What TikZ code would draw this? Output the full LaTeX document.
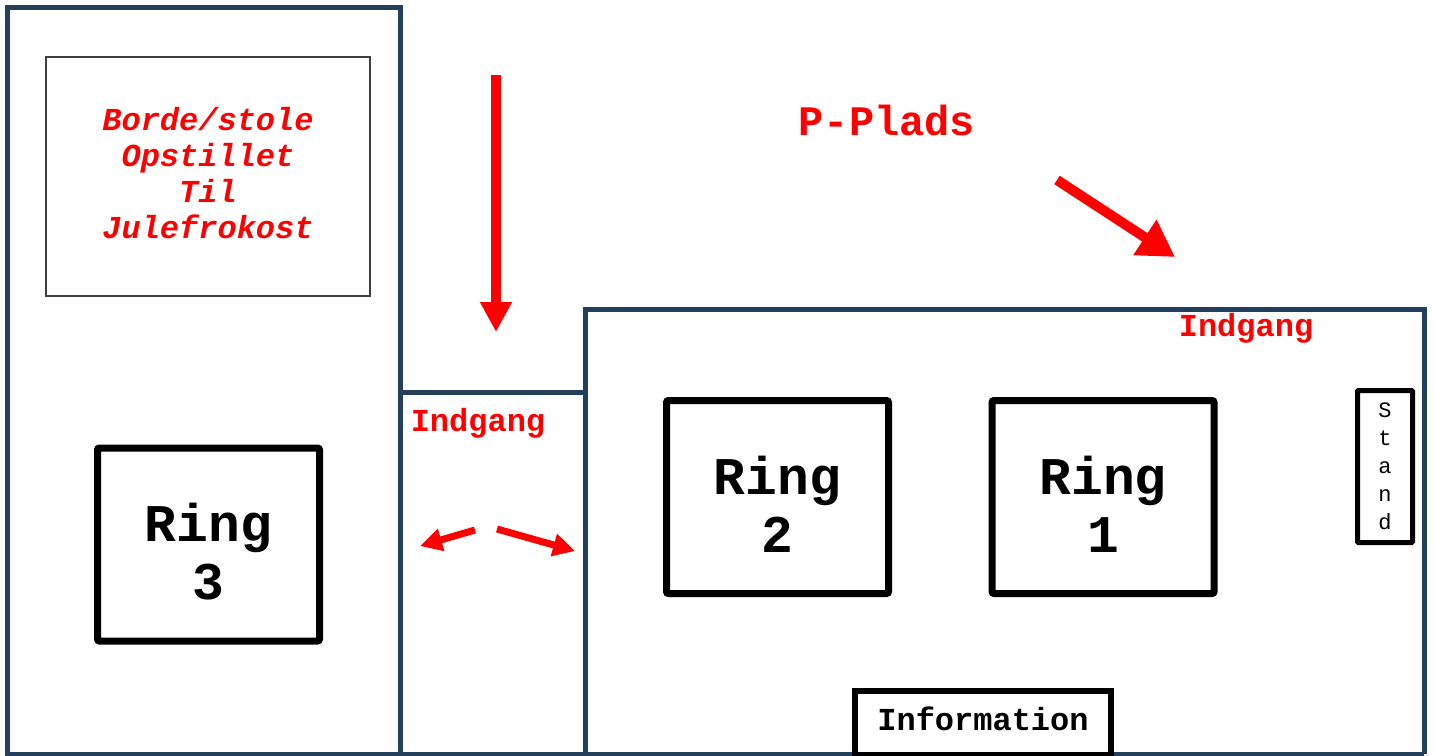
\documentclass[tikz,border=0pt]{standalone}
\usepackage{fontspec}
\setmonofont{Liberation Mono}
\usetikzlibrary{arrows.meta, positioning}

\definecolor{wallblue}{RGB}{36,63,91}

\begin{document}
\begin{tikzpicture}[
    x=1pt, y=-1pt,
    every node/.style={font=\ttfamily},
    wall/.style={draw=wallblue, line width=5pt},
    ring/.style={rectangle, draw, line width=7pt, rounded corners=2pt, minimum width=222pt, minimum height=193pt},
    ringtext/.style={align=center, yshift=-7pt, font=\ttfamily\bfseries\fontsize{53}{58}\selectfont},
    sign/.style={text=red, font=\ttfamily\bfseries\fontsize{32}{36}\selectfont},
    flow/.style={-{Triangle[length=30pt, width=30pt]}, red, line width=10pt},
    smallflow/.style={-{Triangle[length=22pt, width=22pt]}, red, line width=7pt}
]
\useasboundingbox (0,0) rectangle (1434,755);

% Buildings
\draw[wall] (7.5,7.5) rectangle (400,754);
\draw[wall] (400,392) -- (585,392);
\draw[wall] (585,754) -- (585,309) -- (1424,309) -- (1424,754);
\draw[wall] (400,754) -- (1424,754);

% Tables area
\node[rectangle, draw=black!75, line width=1.2pt, minimum width=324pt, minimum height=239pt] (tables) at (208,176.5) {};
\node[align=center, text=red, font=\ttfamily\bfseries\itshape\fontsize{32}{36}\selectfont] (tablestext) at (208,173.5)
      {Borde/stole\\Opstillet\\Til\\Julefrokost};

% Rings
\node[ring, label={[ringtext]center:Ring\\3}] (ring3) at (208.5,544.5) {};
\node[ring, label={[ringtext]center:Ring\\2}] (ring2) at (777.5,497) {};
\node[ring, label={[ringtext]center:Ring\\1}] (ring1) at (1103,497) {};

% Stand and information
\node[rectangle, draw, line width=5pt, rounded corners=1pt, minimum width=55pt, minimum height=152pt, align=center,
      font=\ttfamily\fontsize{22}{28}\selectfont] (stand) at (1385,466.5) {S\\t\\a\\n\\d};
\node[rectangle, draw, line width=6pt, minimum width=256pt, minimum height=64pt] (info) at (983,723) {};
\node[font=\ttfamily\bfseries\fontsize{32}{36}\selectfont] (infotext) at (983,719) {Information};

% Labels
\node[sign, font=\ttfamily\bfseries\fontsize{42}{48}\selectfont] (pplads) at (887,120) {P-Plads};
\node[sign] (indgangTop) at (1246,328) {Indgang};
\node[sign] (indgangMid) at (478,423) {Indgang};

% Arrows
\coordinate (downA) at (496,75);
\coordinate (downB) at (496,332);
\coordinate (diagA) at (1057,180);
\coordinate (diagB) at (1175,257);
\coordinate (leftA) at (475,530);
\coordinate (leftB) at (420,546);
\coordinate (rightA) at (497,529);
\coordinate (rightB) at (575,551);

\draw[flow] (downA) -- (downB);
\draw[flow, -{Triangle[length=36pt, width=40pt]}] (diagA) -- (diagB);
\draw[smallflow] (leftA) -- (leftB);
\draw[smallflow] (rightA) -- (rightB);

\end{tikzpicture}
\end{document}
